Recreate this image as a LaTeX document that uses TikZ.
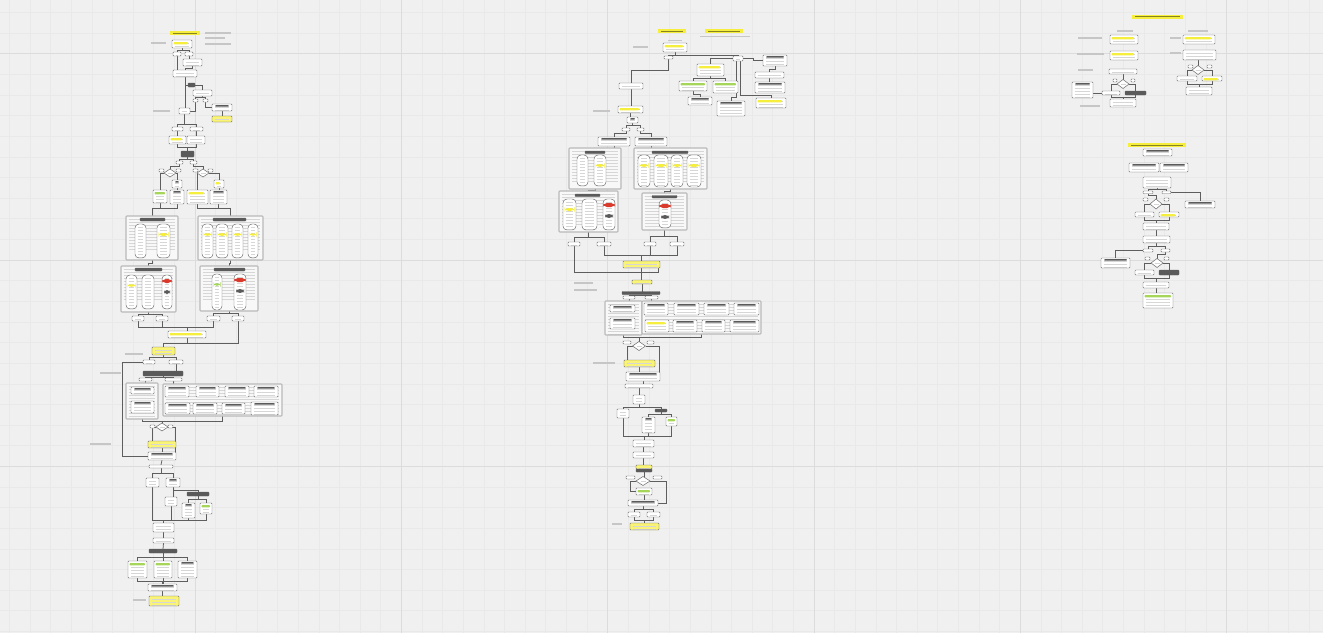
\documentclass[tikz,border=0pt]{standalone}
\usetikzlibrary{shapes.geometric,calc}
\definecolor{bgc}{HTML}{F0F0F0}
\definecolor{gmin}{HTML}{E9E9E9}
\definecolor{gmaj}{HTML}{DCDCDC}
\definecolor{bord}{HTML}{6A6A6A}
\definecolor{dkc}{HTML}{5A5A5A}
\definecolor{yel}{HTML}{F6EE3C}
\definecolor{grn}{HTML}{A5D65A}
\definecolor{redc}{HTML}{D93A2B}
\definecolor{txtc}{HTML}{D6D6D6}
\definecolor{lnc}{HTML}{5E5E5E}
\definecolor{gbc}{HTML}{C6C6C6}
\pgfdeclarelayer{grid}
\pgfdeclarelayer{lines}
\pgfsetlayers{grid,lines,main}
\newcommand\boxrows{\foreach \k in {1,...,11}{\draw[draw=txtc,line width=0.45pt] ([xshift=2.5pt,yshift=-\k*3pt]path picture bounding box.north west) -- ([xshift=-3.5pt,yshift=-\k*3pt]path picture bounding box.north east);}}
\tikzset{
  box/.style={draw=bord, fill=white, line width=0.45pt, rounded corners=0.8pt, inner sep=0pt, outer sep=0pt, path picture={\boxrows}},
  bxy/.style={box, path picture={\boxrows\fill[yel] ([xshift=1.5pt,yshift=-2pt]path picture bounding box.north west) rectangle ([xshift=-4pt,yshift=-4.4pt]path picture bounding box.north east);}},
  bxg/.style={box, path picture={\boxrows\fill[grn] ([xshift=1.5pt,yshift=-2pt]path picture bounding box.north west) rectangle ([xshift=-2pt,yshift=-4.4pt]path picture bounding box.north east);}},
  bxd/.style={box, path picture={\boxrows\fill[dkc] ([xshift=3pt,yshift=-1.2pt]path picture bounding box.north west) rectangle ([xshift=-3pt,yshift=-2.6pt]path picture bounding box.north east);}},
  dk/.style={box, fill=dkc, draw=dkc, path picture={}},
  yl/.style={box, fill=yel, draw=none, rounded corners=0pt, path picture={\draw[draw=yel!55!black, line width=0.7pt] ([xshift=3pt]path picture bounding box.west) -- ([xshift=-3pt]path picture bounding box.east);}},
  yb/.style={box, fill=yel!70!white},
  ct/.style={draw=gray!55, line width=1.1pt, fill=white!50!bgc, inner sep=0pt, outer sep=0pt},
  capb/.style={box, rounded corners=4pt},
  capy/.style={capb, path picture={\boxrows\fill[yel] ([xshift=1.5pt,yshift=-9pt]path picture bounding box.north west) rectangle ([xshift=-1.5pt,yshift=-12pt]path picture bounding box.north east);}},
  capg/.style={capb, path picture={\boxrows\fill[grn] ([xshift=1.5pt,yshift=-9pt]path picture bounding box.north west) rectangle ([xshift=-1.5pt,yshift=-12pt]path picture bounding box.north east);}},
  capr/.style={capb, path picture={\boxrows\fill[redc] ([yshift=-4pt]path picture bounding box.north west) rectangle ([yshift=-8pt]path picture bounding box.north east);\fill[dkc] ([xshift=2pt,yshift=-15pt]path picture bounding box.north west) rectangle ([xshift=-2pt,yshift=-19pt]path picture bounding box.north east);}},
  dia/.style={diamond, draw=bord, fill=white, line width=0.5pt, inner sep=0pt, outer sep=0pt, path picture={\draw[draw=txtc,line width=0.6pt] ([xshift=-2.5pt]path picture bounding box.center) -- ([xshift=2.5pt]path picture bounding box.center);}},
  cn/.style={color=lnc, line width=0.75pt},
  gminor/.style={draw=gmin, line width=0.5pt},
  gmajor/.style={draw=gmaj, line width=0.8pt}
}
\newcommand\bx[6][]{\node[box,#1,minimum width={(#4-#2)*1pt},minimum height={(#5-#3)*1pt}] (#6) at ({(#2+#4)/2},{(#3+#5)/2}) {};}
\newcommand\dm[5]{\node[dia,minimum width={#4pt},minimum height={#5pt}] (#1) at (#2,#3) {};}
\newcommand\gb[4]{\fill[gbc] (#1,#2) rectangle (#3,#4);}
\begin{document}
\begin{tikzpicture}[x=1pt,y=-1pt]
\useasboundingbox (0,0) rectangle (1323,633);
\begin{pgfonlayer}{grid}
\fill[bgc] (0,0) rectangle (1323,633);
\foreach \i in {0,...,65}{\draw[gminor] ({-11.3+20.63*\i},0) -- ({-11.3+20.63*\i},633);}
\foreach \i in {0,...,32}{\draw[gminor] (0,{-8.2+20.63*\i}) -- (1323,{-8.2+20.63*\i});}
\foreach \i in {1,...,6}{\draw[gmajor] ({-11.3+206.3*\i},0) -- ({-11.3+206.3*\i},633);}
\foreach \i in {0,...,2}{\draw[gmajor] (0,{53.7+206.3*\i}) -- (1323,{53.7+206.3*\i});}
\end{pgfonlayer}

% ================= column 1 =================
\bx[yl]{170}{31}{200}{35}{At}
\gb{205}{32}{231}{34}\gb{205}{37}{225}{39}\gb{205}{43}{231}{45}\gb{151}{42}{166}{44}
\bx[bxy]{172}{40}{192}{48}{A1}
\bx{173}{52}{181}{56}{Ab1}\bx{185}{52}{193}{56}{Ab2}
\bx{183}{59}{202}{66}{A2}
\bx{173}{70}{197}{77}{A3}
\bx[dk]{188}{83}{195}{87}{Ad1}
\bx{193}{90}{212}{96}{A4}
\bx{193}{99}{198}{102}{Ab3}\bx{203}{99}{208}{102}{Ab4}
\bx[bxd]{212}{104}{232}{111}{A5}
\bx[yb]{212}{116}{232}{122}{A6}
\bx{179}{108}{190}{114}{A7}\gb{153}{110}{170}{112}
\bx{172}{127}{183}{131}{Ab5}\bx{190}{127}{203}{131}{Ab6}
\bx[bxy]{169}{136}{186}{144}{A8}\bx{187}{136}{205}{144}{A9}
\bx[dk]{181}{151}{194}{157}{Ad2}
\bx{176}{161}{183}{164}{Ab7}\bx{190}{161}{197}{164}{Ab8}
\dm{Am1}{170}{173}{12}{8}\dm{Am2}{203}{173}{12}{8}
\bx{159}{169}{164}{172}{As1}\bx{176}{169}{181}{172}{As2}\bx{193}{169}{198}{172}{As3}\bx{208}{169}{213}{172}{As4}
\bx[bxd]{172}{180}{182}{188}{A10}\bx[bxy]{214}{180}{224}{188}{A11}
\bx[bxg]{153}{190}{167}{203}{A12}\bx[bxd]{170}{190}{184}{204}{A13}\bx[bxy]{187}{190}{208}{204}{A14}\bx[bxd]{210}{190}{227}{204}{A15}
\bx[ct]{126}{216}{178}{260}{AC1}\bx[dk]{140}{218}{165}{221}{AH1}
\bx[capb]{135}{224}{146}{258}{Ak1}\bx[capy]{157}{224}{170}{258}{Ak2}
\bx[ct]{198}{216}{263}{260}{AC2}\bx[dk]{213}{218}{246}{221}{AH2}
\bx[capy]{202}{224}{213}{258}{Ak3}\bx[capy]{216}{224}{228}{258}{Ak4}\bx[capy]{232}{224}{243}{258}{Ak5}\bx[capy]{248}{224}{258}{258}{Ak6}
\bx[ct]{121}{266}{176}{312}{AC3}\bx[dk]{135}{268}{162}{271}{AH3}
\bx[capy]{126}{275}{137}{309}{Ak7}\bx[capb]{142}{275}{154}{309}{Ak8}\bx[capr]{162}{275}{172}{309}{Ak9}
\bx[ct]{200}{266}{258}{311}{AC4}\bx[dk]{214}{268}{245}{271}{AH4}
\bx[capg]{212}{274}{222}{310}{Ak10}\bx[capr]{234}{274}{246}{310}{Ak11}
\bx{132}{316}{144}{321}{Ab9}\bx{156}{316}{168}{321}{Ab10}\bx{207}{316}{220}{321}{Ab11}\bx{232}{316}{244}{321}{Ab12}
\bx[bxy]{168}{331}{206}{338}{A16}
\bx[yb]{152}{347}{175}{355}{A17}\gb{125}{353}{143}{355}
\gb{100}{372}{121}{374}
\bx{143}{360}{155}{364}{Ab13}\bx{169}{360}{183}{364}{Ab14}
\bx[dk]{143}{371}{183}{376}{Ad3}
\bx{139}{378}{152}{381}{Ab15}\bx{165}{378}{182}{381}{Ab16}
\bx[ct]{126}{383}{158}{419}{AC5}
\bx[bxd]{131}{387}{154}{394}{Ai1}\bx[bxd]{131}{401}{154}{413}{Ai2}
\bx[ct]{163}{384}{282}{416}{AC6}
\bx[bxd]{165}{386}{189}{397}{Ai3}\bx[bxd]{196}{386}{219}{397}{Ai4}\bx[bxd]{225}{386}{249}{397}{Ai5}\bx[bxd]{254}{386}{278}{397}{Ai6}
\bx[bxd]{165}{403}{190}{414}{Ai7}\bx[bxd]{193}{403}{217}{414}{Ai8}\bx[bxd]{222}{403}{245}{414}{Ai9}\bx[bxd]{251}{402}{278}{415}{Ai10}
\dm{Am3}{162}{427}{12}{8}
\bx{150}{425}{155}{428}{As5}\bx{168}{425}{173}{428}{As6}
\gb{90}{443}{111}{445}
\bx[yb]{148}{441}{176}{448}{A18}
\bx[bxd]{148}{452}{176}{460}{A19}
\bx{149}{465}{173}{468}{A20}
\bx{146}{478}{159}{487}{A21}\bx[bxd]{166}{478}{180}{487}{A22}
\bx[dk]{187}{492}{209}{496}{Ad4}
\bx{165}{497}{177}{506}{A23}
\bx[bxd]{182}{503}{195}{518}{A24}\bx[bxg]{200}{503}{212}{514}{A25}
\coordinate (Aj1) at (163.5,520);
\bx{153}{523}{174}{532}{A26}
\bx{153}{538}{174}{543}{A27}
\bx[dk]{149}{549}{177}{553}{Ad5}
\bx[bxg]{128}{561}{147}{578}{A28}\bx[bxg]{154}{561}{172}{578}{A29}\bx[bxd]{178}{561}{197}{578}{A30}
\bx[bxd]{148}{584}{177}{591}{A31}
\bx[yb]{149}{596}{179}{606}{A32}\gb{133}{599}{146}{601}

% ================= column 2 =================
\bx[yl]{658}{29}{686}{33}{Bt1}\bx[yl]{705}{29}{743}{33}{Bt2}\gb{700}{35.5}{750}{36.6}
\gb{633}{46}{648}{48}\gb{668}{39.5}{682}{41}
\bx[bxy]{663}{43}{687}{52}{B1}
\bx{664}{56}{673}{59}{Bs1}
\bx{733}{56}{743}{61}{Bs2}
\bx{619}{83}{643}{89}{B2}
\bx[bxy]{618}{106}{643}{113}{B3}\gb{593}{110}{610}{112}
\bx[bxd]{627}{117}{638}{123}{B4}
\bx{622}{128}{630}{131}{Bs3}\bx{637}{128}{644}{131}{Bs4}
\bx[bxd]{598}{137}{630}{146}{B5}\bx[bxd]{635}{137}{667}{146}{B6}
\bx[ct]{569}{148}{621}{189}{BC1}\bx[dk]{585}{151}{605}{153.5}{BH1}
\bx[capb]{577}{155}{588}{186}{Bk1}\bx[capy]{594}{155}{606}{186}{Bk2}
\bx[ct]{634}{148}{707}{189}{BC2}\bx[dk]{652}{151}{688}{153.5}{BH2}
\bx[capy]{638}{155}{650}{187}{Bk3}\bx[capy]{654}{155}{668}{187}{Bk4}\bx[capy]{671}{155}{683}{187}{Bk5}\bx[capy]{687}{155}{701}{187}{Bk6}
\bx[ct]{559}{191}{618}{232}{BC3}\bx[dk]{575}{194}{600}{196.5}{BH3}
\bx[capy]{563}{199}{576}{230}{Bk7}\bx[capb]{582}{199}{597}{230}{Bk8}\bx[capr]{603}{199}{615}{230}{Bk9}
\bx[ct]{642}{193}{687}{230}{BC4}\bx[dk]{652}{195.5}{677}{198}{BH4}
\bx[capr]{659}{200}{671}{228}{Bk10}
\bx{568}{242}{580}{246}{Bs5}\bx{597}{242}{611}{246}{Bs6}\bx{644}{242}{656}{246}{Bs7}\bx{670}{242}{684}{246}{Bs8}
\bx[yb]{623}{261}{660}{268}{B7}
\gb{574}{282}{593}{284}\gb{574}{289}{597}{291}
\bx[yb]{632}{280}{652}{284}{B8}
\bx[dk]{622}{291.5}{660}{294.5}{Bd1}
\bx{623}{296}{635}{299}{Bs9}\bx{645}{296}{658}{299}{Bs10}
\bx[ct]{605}{301}{642}{335}{BC5}
\bx[bxd]{610}{305}{635}{312}{Bi1}\bx[bxd]{610}{318}{635}{329}{Bi2}
\bx[ct]{642}{301}{761}{334}{BC6}
\bx[bxd]{644}{303}{668}{315}{Bi3}\bx[bxd]{674}{303}{699}{315}{Bi4}\bx[bxd]{704}{303}{729}{315}{Bi5}\bx[bxd]{734}{303}{759}{315}{Bi6}
\bx[bxy]{645}{320}{669}{332}{Bi7}\bx[bxd]{673}{320}{697}{332}{Bi8}\bx[bxd]{702}{320}{725}{332}{Bi9}\bx[bxd]{730}{320}{759}{332}{Bi10}
\dm{Bm1}{639}{346}{13}{9}
\bx{623}{341}{631}{344}{Bs11}\bx{647}{341}{654}{344}{Bs12}
\gb{593}{362}{615}{364}
\bx[yb]{624}{360}{655}{367}{B9}
\bx[bxd]{626}{372}{660}{381}{B10}
\bx{625}{384}{653}{388}{B11}
\bx{633}{395}{645}{404}{B12}
\bx{617}{409}{629}{418}{B13}\bx[dk]{655}{409}{667}{412}{Bd2}
\bx[bxd]{642}{417}{655}{433}{B14}\bx[bxg]{666}{417}{677}{426}{B15}
\coordinate (Bj1) at (644,436);
\bx{633}{440}{654}{447}{B16}
\bx{633}{452}{654}{458}{B17}
\bx[yb]{636}{465}{652}{469}{B18}\bx[dk]{636}{469}{652}{472}{Bd3}
\dm{Bm2}{643}{481}{14}{9}
\bx{626}{476}{635}{479}{Bs13}\bx{653}{476}{662}{479}{Bs14}
\bx[bxg]{636}{488}{652}{495}{B19}
\bx[bxd]{628}{500}{658}{506}{B20}
\bx{628}{512}{640}{517}{B21}\bx{647}{512}{660}{517}{B22}
\bx[yb]{630}{523}{659}{530}{B23}\gb{612}{523}{622}{525}
\bx[bxd]{763}{55}{787}{66}{Br1}\bx{755}{72}{784}{78}{Br2}
\bx[bxy]{697}{64}{724}{76}{Bp1}\bx[bxg]{679}{81}{707}{91}{Bp2}\bx[bxg]{713}{81}{738}{93}{Bp3}\bx[bxd]{755}{82}{785}{93}{Bp4}
\bx[bxd]{688}{97}{712}{105}{Bq1}\bx[bxd]{717}{101}{745}{116}{Bq2}\bx[bxy]{756}{98}{786}{108}{Bq3}

% ================= column 3 =================
\bx[yl]{1132}{15}{1183}{18.5}{Ct1}
\gb{1117}{30}{1133}{32}\gb{1188}{30}{1208}{32}\gb{1078}{37}{1102}{39}\gb{1170}{37}{1181}{39}\gb{1077}{53}{1104}{55}\gb{1170}{52}{1181}{54}\gb{1078}{69}{1093}{71}\gb{1080}{105}{1100}{107}
\bx[bxy]{1110}{35}{1138}{44}{C1}\bx[bxy]{1183}{35}{1215}{44}{C2}\bx[bxy]{1110}{51}{1138}{60}{C3}\bx{1183}{50}{1216}{60}{C4}
\bx{1109}{69}{1137}{74}{C5}
\dm{Cm1}{1123}{84}{12}{9}
\bx{1113}{79}{1117}{82}{Cs1}\bx{1131}{79}{1135}{82}{Cs2}
\bx[bxd]{1072}{82}{1093}{98}{C6}\bx{1102}{91}{1120}{95}{C7}\bx[dk]{1125}{91}{1146}{95}{C8}
\bx{1110}{99}{1136}{107}{C9}
\dm{Cm2}{1198}{70}{12}{9}
\bx{1188}{65}{1193}{68}{Cs3}\bx{1207}{65}{1212}{68}{Cs4}
\bx{1177}{76}{1197}{81}{C10}\bx[bxy]{1202}{76}{1222}{81}{C11}
\bx{1186}{87}{1212}{95}{C12}
\bx[yl]{1128}{143}{1186}{147}{Ct2}
\bx[bxd]{1143}{149}{1172}{156}{D1}
\bx[bxd]{1129}{163}{1159}{172}{D2}\bx[bxd]{1160}{163}{1188}{172}{D3}
\bx{1143}{177}{1171}{188}{D4}
\bx{1143}{191}{1153}{193.5}{Ds1}\bx{1162}{191}{1171}{193.5}{Ds2}
\dm{Dm1}{1156}{204}{12}{10}
\bx{1143}{198}{1148}{201}{Ds3}\bx{1164}{198}{1169}{201}{Ds4}
\bx[bxd]{1185}{201}{1215}{208}{D5}
\bx{1135}{212}{1154}{217}{D6}\bx[bxy]{1159}{212}{1179}{217}{D7}
\bx{1143}{223}{1169}{230}{D8}
\bx{1143}{236}{1170}{243}{D9}
\bx{1143}{249}{1153}{252}{Ds5}\bx{1161}{249}{1170}{252}{Ds6}
\bx[bxd]{1101}{258}{1130}{268}{D10}
\dm{Dm2}{1157}{263}{12}{9}
\bx{1145}{257}{1150}{260}{Ds7}\bx{1164}{257}{1169}{260}{Ds8}
\bx{1135}{270}{1154}{275}{D11}\bx[dk]{1159}{270}{1179}{275}{D12}
\bx{1143}{282}{1169}{288}{D13}
\bx[bxg]{1143}{293}{1173}{308}{D14}

% ================= connectors =================
\begin{pgfonlayer}{lines}
\begin{scope}[cn]
% column 1
\draw (A1.south) -- ++(0,2) -| (Ab1.north);
\draw (A1.south) ++(0,2) -| (Ab2.north);
\draw (Ab2.south) -- (Ab2.south |- A2.north);
\draw (Ab1.south) -- (Ab1.south |- A3.north);
\draw (A2.south) -- ++(0,2) -| (A3.north);
\draw (A3.south) -- (A3.south |- A7.north);
\draw (A3.south |- Ad1.west) -- (Ad1.west);
\draw (Ad1.east) -| (A4.north);
\draw (A4.south) -- ++(0,1.5) -| (Ab3.north);
\draw (A4.south) ++(0,1.5) -| (Ab4.north);
\draw (Ab4.south) |- (A5.west);
\draw (A5.south) -- (A6.north);
\draw (Ab3.south) |- (A7.east);
\draw (A7.south) -- ++(0,10) -| (Ab5.north);
\draw (A7.south) ++(0,10) -| (Ab6.north);
\draw (Ab5.south) -- (Ab5.south |- A8.north);
\draw (Ab6.south) -- (Ab6.south |- A9.north);
\draw (A8.south) -- ++(0,3.5) -| (Ad2.north);
\draw (A9.south) -- ++(0,3.5) -| (Ad2.north);
\draw (Ad2.south) -- ++(0,2) -| (Ab7.north);
\draw (Ad2.south) ++(0,2) -| (Ab8.north);
\draw (Ab7.south) -- ++(0,2) -| (Am1.north);
\draw (Ab8.south) -- ++(0,2) -| (Am2.north);
\draw (Am1.west) -| (A12.north);
\draw (Am1.east) -| (A10.north);
\draw (Am2.west) -| (A14.north);
\draw (Am2.east) -| (A11.north);
\draw (A10.south) -- (A10.south |- A13.north);
\draw (A11.south) -- (A11.south |- A15.north);
\draw (A12.south) -- ++(0,5) -| (AC1.north);
\draw (A13.south) -- ++(0,4) -| (AC1.north);
\draw (A14.south) -- ++(0,4) -| (AC2.north);
\draw (A15.south) -- ++(0,4) -| (AC2.north);
\draw (AC1.south) -- ++(0,3) -| (AC3.north);
\draw (AC2.south) -- ++(0,3) -| (AC4.north);
\draw (AC3.south) -- ++(0,2) -| (Ab9.north);
\draw (AC3.south) ++(0,2) -| (Ab10.north);
\draw (AC4.south) -- ++(0,2) -| (Ab11.north);
\draw (AC4.south) ++(0,2) -| (Ab12.north);
\draw (Ab9.south) -- ++(0,6) -| (A16.north);
\draw (Ab10.south) -- ++(0,6) -| (A16.north);
\draw (Ab11.south) -- ++(0,6) -| (A16.north);
\draw (Ab12.south) -- ++(0,22) -| (A17.north);
\draw (A16.south) -- ++(0,5) -| (A17.north);
\draw (A17.south) -- ++(0,2.5) -| (Ab13.north);
\draw (A17.south) ++(0,2.5) -| (Ab14.north);
\draw (Ab13.west) -- ++(-21,0) |- (A19.west);
\draw (Ab14.south) -- (Ab14.south |- Ad3.north);
\draw (Ad3.south) -- ++(0,1) -| (Ab15.north);
\draw (Ad3.south) ++(0,1) -| (Ab16.north);
\draw (Ab15.south) -- (Ab15.south |- AC5.north);
\draw (Ab16.south) -- (Ab16.south |- AC6.north);
\draw (AC5.south) -- ++(0,2) -| (Am3.north);
\draw (AC6.south) -- ++(0,5) -| (Am3.north);
\draw (Am3.west) -| ([xshift=4pt]A18.north west);
\draw (Am3.east) -| ([xshift=-1pt]A19.north east);
\draw (A18.south) -- (A19.north);
\draw (A19.south) -- (A20.north);
\draw (A20.south) -- ++(0,5) -| (A21.north);
\draw (A20.south) ++(0,5) -| (A22.north);
\draw (A22.south) -- ++(0,3) -| (Ad4.north);
\draw (A22.south) -- (A22.south |- A23.north);
\draw (Ad4.south) -- ++(0,3) -| (A24.north);
\draw (Ad4.south) ++(0,3) -| (A25.north);
\draw (A21.south) |- (Aj1);
\draw (A23.south) |- (Aj1);
\draw (A24.south) |- (Aj1);
\draw (A25.south) |- (Aj1);
\draw (Aj1) -- (Aj1 |- A26.north);
\draw (A26.south) -- (A27.north);
\draw (A27.south) -- (Ad5.north);
\draw (Ad5.south) -- ++(0,4) -| (A28.north);
\draw (Ad5.south) -- (Ad5.south |- A29.north);
\draw (Ad5.south) ++(0,4) -| (A30.north);
\draw (A28.south) -- ++(0,3) -| (A31.north);
\draw (A29.south) -- (A29.south |- A31.north);
\draw (A30.south) -- ++(0,3) -| (A31.north);
\draw (A31.south) -- (A31.south |- A32.north);
% column 2
\draw (B1.south) -- ++(0,3) -| (Bs1.north);
\draw (B1.south) ++(0,3) -| (Bs2.north);
\draw (Bs1.south) -- ++(0,11) -| (B2.north);
\draw (B2.south) -- (B2.south |- B3.north);
\draw (B3.south) -- (B3.south |- B4.north);
\draw (B4.south) -- ++(0,2) -| (Bs3.north);
\draw (B4.south) ++(0,2) -| (Bs4.north);
\draw (Bs3.south) -- ++(0,2) -| (B5.north);
\draw (Bs4.south) -- ++(0,2) -| (B6.north);
\draw (B5.south) -- (B5.south |- BC1.north);
\draw (B6.south) -- (B6.south |- BC2.north);
\draw (BC1.south) -- ++(0,1) -| (BC3.north);
\draw (BC2.south) -- ++(0,2) -| (BC4.north);
\draw (BC3.south) -- ++(0,5) -| (Bs5.north);
\draw (BC3.south) ++(0,5) -| (Bs6.north);
\draw (BC4.south) -- ++(0,6) -| (Bs7.north);
\draw (BC4.south) ++(0,6) -| (Bs8.north);
\draw (Bs5.south) -- ++(0,26) -| ([xshift=-2pt]B7.south east);
\draw (Bs6.south) -- ++(0,9) -| (B7.north);
\draw (Bs7.south) -- ++(0,9) -| (B7.north);
\draw (Bs8.south) -- ++(0,9) -| (B7.north);
\draw (B7.south) -- (B7.south |- B8.north);
\draw (B8.south) -- (B8.south |- Bd1.north);
\draw (Bd1.south) -- ++(0,0.8) -| (Bs9.north);
\draw (Bd1.south) ++(0,0.8) -| (Bs10.north);
\draw (Bs9.south) -- (Bs9.south |- BC5.north);
\draw (Bs10.south) -- (Bs10.south |- BC6.north);
\draw (BC5.south) -- ++(0,2) -| (Bm1.north);
\draw (BC6.south) -- ++(0,3) -| (Bm1.north);
\draw (Bm1.west) -| ([xshift=3pt]B9.north west);
\draw (Bm1.east) -| ([xshift=-1pt]B10.north east);
\draw (B9.south) -- (B9.south |- B10.north);
\draw (B10.south) -- (B10.south |- B11.north);
\draw (B11.south) -- (B11.south |- B12.north);
\draw (B12.south) -- ++(0,3) -| (B13.north);
\draw (B12.south) ++(0,3) -| (Bd2.north);
\draw (Bd2.south) -- ++(0,2) -| (B14.north);
\draw (Bd2.south) ++(0,2) -| (B15.north);
\draw (B13.south) |- (Bj1);
\draw (B14.south) -- (B14.south |- Bj1);
\draw (B15.south) |- (Bj1);
\draw (Bj1) -- (Bj1 |- B16.north);
\draw (B16.south) -- (B16.south |- B17.north);
\draw (B17.south) -- (B17.south |- B18.north);
\draw (Bd3.south) -- (Bd3.south |- Bm2.north);
\draw (Bm2.west) -- ++(-6,0) |- (B19.west);
\draw (Bm2.east) -- ++(16,0) |- (B20.east);
\draw (B19.south) -- (B19.south |- B20.north);
\draw (B20.south) -- ++(0,3) -| (B21.north);
\draw (B20.south) ++(0,3) -| (B22.north);
\draw (B21.south) -- ++(0,3) -| (B23.north);
\draw (B22.south) -- ++(0,3) -| (B23.north);
\draw (Bs2.east) -- ++(10,0) |- (Br1.west);
\draw (Br1.south) -- ++(0,3) -| (Br2.north);
\draw (Br2.south) -- (Br2.south |- Bp4.north);
\draw (Bs2.west) -| (Bp1.north);
\draw (Bp1.south) -- ++(0,2.5) -| (Bp2.north);
\draw (Bp1.south) ++(0,2.5) -| (Bp3.north);
\draw (Bp2.south) -- ++(0,3) -| (Bq1.north);
\draw ([xshift=-2pt]Bs2.south) -- ++(0,36) -| (Bq2.north);
\draw ([xshift=2pt]Bs2.south) -- ++(0,34) -| (Bq3.north);
% column 3
\draw (C5.south) -- (C5.south |- Cm1.north);
\draw (Cm1.west) -| (C7.north);
\draw (Cm1.east) -| (C8.north);
\draw (C7.south) -- ++(0,2) -| (C9.north);
\draw (C8.south) -- ++(0,2) -| (C9.north);
\draw (C6.east |- C7.west) -- (C7.west);
\draw (Cm2.north |- C4.south) -- (Cm2.north);
\draw (Cm2.west) -| (C10.north);
\draw (Cm2.east) -| (C11.north);
\draw (C10.south) -- ++(0,3) -| (C12.north);
\draw (C11.south) -- ++(0,3) -| (C12.north);
\draw (D4.south) -- ++(0,1.5) -| (Ds1.north);
\draw (D4.south) ++(0,1.5) -| (Ds2.north);
\draw (Ds1.south) -- ++(0,2) -| (Dm1.north);
\draw (Ds2.east) -| (D5.north);
\draw (Dm1.west) -| (D6.north);
\draw (Dm1.east) -| (D7.north);
\draw (D6.south) -- ++(0,3) -| (D8.north);
\draw (D7.south) -- ++(0,3) -| (D8.north);
\draw (D8.south) -- (D8.south |- D9.north);
\draw (D9.south) -- ++(0,3) -| (Ds5.north);
\draw (D9.south) ++(0,3) -| (Ds6.north);
\draw (Ds5.west) -| (D10.north);
\draw (Ds6.south) -- ++(0,2) -| (Dm2.north);
\draw (Dm2.west) -| (D11.north);
\draw (Dm2.east) -| (D12.north);
\draw (D11.south) -- ++(0,3) -| (D13.north);
\draw (D12.south) -- ++(0,3) -| (D13.north);
\draw (D13.south) -- (D13.south |- D14.north);
\end{scope}
\end{pgfonlayer}
\end{tikzpicture}
\end{document}
